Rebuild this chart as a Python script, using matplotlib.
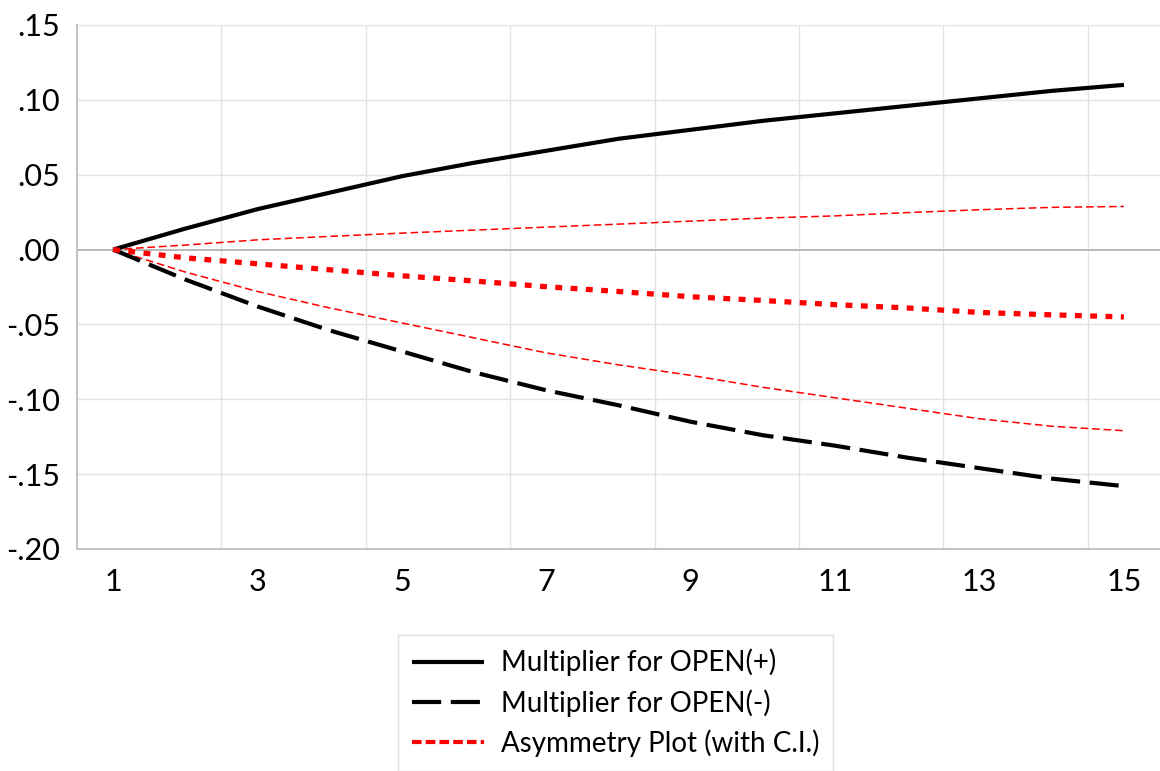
import matplotlib
matplotlib.use("Agg")
import matplotlib.pyplot as plt
from matplotlib.ticker import FixedLocator, FuncFormatter
from matplotlib.lines import Line2D

# horizon (periods) and multiplier values
periods = list(range(1, 16))
open_pos = [0.000, 0.014, 0.027, 0.038, 0.049, 0.058, 0.066, 0.074,
            0.080, 0.086, 0.091, 0.096, 0.101, 0.106, 0.110]
open_neg = [0.000, -0.020, -0.038, -0.054, -0.068, -0.082, -0.094, -0.104,
            -0.115, -0.124, -0.131, -0.139, -0.146, -0.153, -0.158]
asym = [0.000, -0.0055, -0.0095, -0.0135, -0.0175, -0.021, -0.0248, -0.028,
        -0.0315, -0.034, -0.0368, -0.039, -0.042, -0.0436, -0.045]
ci_upper = [0.000, 0.003, 0.0065, 0.0088, 0.011, 0.013, 0.015, 0.017,
            0.019, 0.021, 0.0225, 0.0247, 0.0266, 0.0282, 0.0288]
ci_lower = [0.000, -0.015, -0.028, -0.039, -0.049, -0.059, -0.069, -0.077,
            -0.084, -0.092, -0.099, -0.106, -0.113, -0.118, -0.121]

x_ticks = [1, 3, 5, 7, 9, 11, 13, 15]
y_ticks = [-0.20, -0.15, -0.10, -0.05, 0.00, 0.05, 0.10, 0.15]
legend_labels = ["Multiplier for OPEN(+)", "Multiplier for OPEN(-)",
                 "Asymmetry Plot (with C.I.)"]

plt.rcParams['font.family'] = ['Lato', 'DejaVu Sans']

fig = plt.figure(figsize=(11.6, 7.71), dpi=100)
ax = fig.add_axes([77 / 1160, 1 - 549 / 771, 1 - 77 / 1160, (549 - 25) / 771])

# grid: vertical lines sit between categories, every second one
for gx in [2.5, 4.5, 6.5, 8.5, 10.5, 12.5, 14.5]:
    ax.axvline(gx, color='#e3e3e3', lw=1.0, zorder=0)
for gy in y_ticks:
    if gy != 0:
        ax.axhline(gy, color='#e3e3e3', lw=1.0, zorder=0)
ax.axhline(0, color='#b8b8b8', lw=1.4, zorder=1)

ax.plot(periods, ci_upper, color='red', lw=1.1, dashes=(5, 2.5), zorder=2)
ax.plot(periods, ci_lower, color='red', lw=1.1, dashes=(5, 2.5), zorder=2)
l1, = ax.plot(periods, open_pos, color='black', lw=3.0, zorder=3,
              solid_capstyle='butt')
l2, = ax.plot(periods, open_neg, color='black', lw=3.0, dashes=(7, 2.3),
              zorder=3)
l3, = ax.plot(periods, asym, color='red', lw=3.8, dashes=(1.3, 1.6), zorder=3)

ax.set_xlim(0.5, 15.5)
ax.set_ylim(-0.20, 0.15)
ax.xaxis.set_major_locator(FixedLocator(x_ticks))
ax.yaxis.set_major_locator(FixedLocator(y_ticks))


def fmt(v, pos):
    s = f"{v:.2f}"
    return s.replace("0.", ".")


ax.yaxis.set_major_formatter(FuncFormatter(fmt))
ax.tick_params(axis='both', length=0, labelsize=22)
ax.tick_params(axis='x', pad=14)
ax.tick_params(axis='y', pad=12)

for side in ['top', 'right']:
    ax.spines[side].set_visible(False)
for side in ['left', 'bottom']:
    ax.spines[side].set_color('#c4c4c4')
    ax.spines[side].set_linewidth(1.5)

# legend handle for the asymmetry entry is drawn as a short-dash red line
h3 = Line2D([], [], color='red', lw=3.0, dashes=(2.3, 1.0))
leg = fig.legend([l1, l2, h3], legend_labels, loc='upper left',
                 bbox_to_anchor=(398 / 1160, 1 - 635 / 771),
                 borderaxespad=0, fontsize=20, handlelength=2.6,
                 handletextpad=0.6, labelspacing=0.45, borderpad=0.5,
                 fancybox=False, frameon=True)
leg.get_frame().set_edgecolor('#d9d9d9')
leg.get_frame().set_linewidth(1.0)

fig.savefig("out.png", dpi=100)
